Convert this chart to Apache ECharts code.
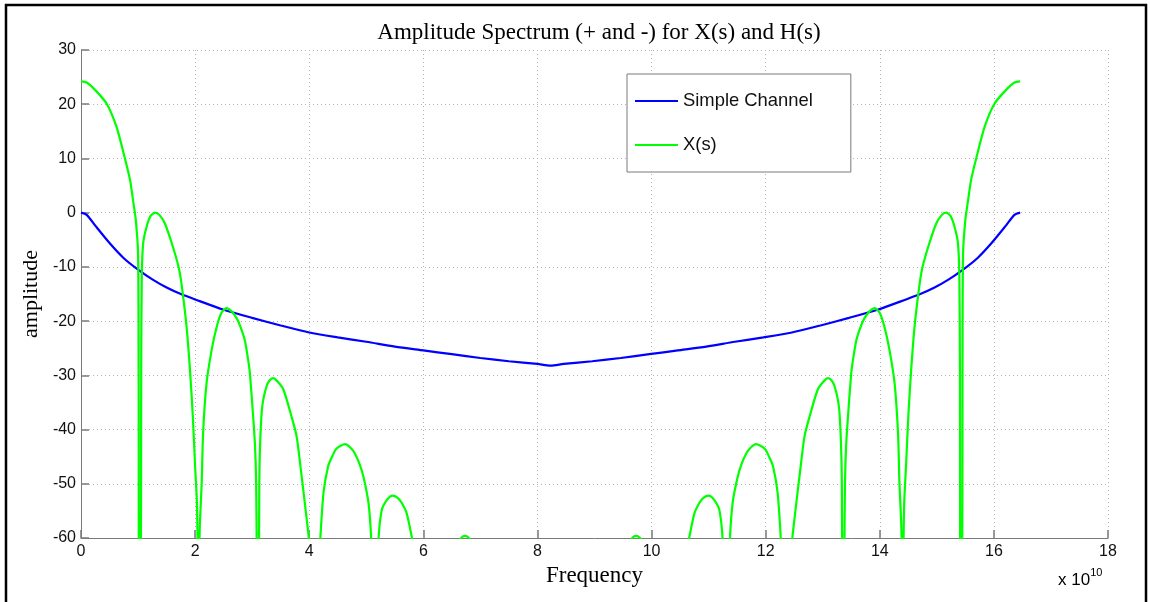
<!DOCTYPE html>
<html>
<head>
<meta charset="utf-8">
<script src="https://cdn.jsdelivr.net/npm/echarts@6/dist/echarts.min.js"></script>
<style>
html,body{margin:0;padding:0;background:#fff;}
#chart{width:1150px;height:602px;}
</style>
</head>
<body>
<div id="chart"></div>
<script>
// Frequency in units of 1e10
var xTicks = [0, 2, 4, 6, 8, 10, 12, 14, 16, 18];
var yTicks = [-60, -50, -40, -30, -20, -10, 0, 10, 20, 30];

var chanFreq = [0, 0.1, 0.25, 0.5, 0.75, 1.0, 1.25, 1.5, 1.75, 2.0, 2.5, 3.0, 3.5, 4.0, 4.5, 5.0, 5.5, 6.0, 6.5, 7.0, 7.5, 8.0, 8.23,
  8.46, 8.96, 9.46, 9.96, 10.46, 10.96, 11.46, 11.96, 12.46, 12.96, 13.46, 13.96, 14.46, 14.71, 14.96, 15.21, 15.46, 15.71, 15.96, 16.21, 16.36, 16.46];
var chanAmp = [0, -0.4, -2.4, -5.6, -8.4, -10.5, -12.3, -13.8, -15.0, -16.0, -17.9, -19.4, -20.8, -22.1, -23.0, -23.8, -24.7, -25.4, -26.1, -26.8, -27.4, -27.9, -28.2,
  -27.9, -27.4, -26.8, -26.1, -25.4, -24.7, -23.8, -23.0, -22.1, -20.8, -19.4, -17.9, -16.0, -15.0, -13.8, -12.3, -10.5, -8.4, -5.6, -2.4, -0.4, 0];

var xsFreq = [0, 0.1, 0.25, 0.45, 0.62, 0.77, 0.86, 0.92, 0.96, 1.0, 1.01, 1.02, 1.045, 1.055, 1.065, 1.09, 1.15, 1.22, 1.3, 1.38,
  1.47, 1.59, 1.71, 1.76, 1.85, 1.91, 1.96, 2.0, 2.03, 2.045, 2.06, 2.075, 2.085, 2.115, 2.14, 2.2, 2.29, 2.38, 2.46, 2.55,
  2.64, 2.73, 2.8, 2.87, 2.93, 2.96, 3.02, 3.05, 3.07, 3.08, 3.1, 3.12, 3.125, 3.14, 3.17, 3.2, 3.25, 3.3, 3.37, 3.45,
  3.55, 3.69, 3.78, 3.86, 3.95, 4.0, 4.1, 4.19, 4.25, 4.33, 4.4, 4.48, 4.63, 4.72, 4.8, 4.88, 4.95, 5.04, 5.09, 5.15,
  5.21, 5.27, 5.36, 5.46, 5.55, 5.62, 5.71, 5.82, 6.2, 6.6, 6.67, 6.73, 6.79, 6.85, 7.5, 8.23,
  8.96, 9.61, 9.67, 9.73, 9.79, 9.86, 10.26, 10.64, 10.75, 10.84, 10.91, 11.0, 11.1, 11.19, 11.25, 11.31, 11.37, 11.42,
  11.51, 11.58, 11.66, 11.74, 11.83, 11.98, 12.06, 12.13, 12.21, 12.27, 12.36, 12.46, 12.51, 12.6, 12.68, 12.77, 12.91,
  13.01, 13.09, 13.16, 13.21, 13.26, 13.29, 13.32, 13.335, 13.34, 13.36, 13.38, 13.39, 13.41, 13.44, 13.5, 13.53, 13.59,
  13.66, 13.73, 13.82, 13.91, 14.0, 14.08, 14.17, 14.26, 14.32, 14.345, 14.375, 14.385, 14.4, 14.415, 14.43, 14.46, 14.5,
  14.55, 14.61, 14.7, 14.75, 14.87, 14.99, 15.08, 15.16, 15.24, 15.31, 15.37, 15.395, 15.405, 15.415, 15.44, 15.45, 15.46,
  15.5, 15.54, 15.6, 15.69, 15.84, 16.01, 16.21, 16.36, 16.46];
var xsAmp = [24.2, 24.0, 22.6, 20.1, 15.9, 10.0, 6.0, 1.7, -1.3, -7.5, -30, -80, -80, -30, -12, -5.6, -2.6, -0.6, 0, -0.5,
  -2.0, -5.6, -10.0, -13, -21, -29, -37.6, -46.8, -53, -62, -80, -62, -57, -50, -40.7, -31.5, -25.3, -21.0, -18.5, -17.6,
  -18.2, -19.5, -21.2, -23.5, -27.2, -29.6, -38, -43, -50, -62, -80, -62, -50, -42.5, -36.4, -34.2, -32.1, -31.0, -30.5, -31.2,
  -32.7, -37.6, -41.3, -48, -56, -61, -80, -61, -51.7, -46.8, -45.0, -43.5, -42.7, -43.3, -44.4, -46.3, -48.7, -53.6, -61, -80,
  -61, -54.9, -53.0, -52.2, -52.6, -53.5, -55.5, -61, -80, -61, -59.9, -59.6, -59.9, -61, -80, -80,
  -80, -61, -59.9, -59.6, -59.9, -61, -80, -61, -55.5, -53.5, -52.6, -52.2, -53.0, -54.9, -61, -80, -61, -53.6,
  -48.7, -46.3, -44.4, -43.3, -42.7, -43.5, -45.0, -46.8, -51.7, -61, -80, -61, -56, -48, -41.3, -37.6, -32.7,
  -31.2, -30.5, -31.0, -32.1, -34.2, -36.4, -42.5, -50, -62, -80, -62, -50, -43, -38, -29.6, -27.2, -23.5,
  -21.2, -19.5, -18.2, -17.6, -18.5, -21.0, -25.3, -31.5, -40.7, -50, -57, -62, -80, -62, -53, -46.8, -37.6,
  -29, -21, -13, -10.0, -5.6, -2.0, -0.5, 0, -0.6, -2.6, -5.6, -12, -30, -80, -80, -30, -7.5,
  -1.3, 1.7, 6.0, 10.0, 15.9, 20.1, 22.6, 24.0, 24.2];

function pairs(xs, ys) { var out = []; for (var i = 0; i < xs.length; i++) out.push([xs[i], ys[i]]); return out; }

var chart = echarts.init(document.getElementById('chart'), null, {renderer: 'canvas'});
var gridLine = {show: true, lineStyle: {color: '#b4b4b4', type: [1, 3], width: 1}};
var axisText = {color: '#111', fontFamily: 'Liberation Sans, Arial', fontSize: 16};
chart.setOption({
  backgroundColor: '#ffffff',
  animation: false,
  title: {
    text: 'Amplitude Spectrum (+ and -) for X(s) and H(s)',
    left: 594, top: 16, textAlign: 'center',
    textStyle: {fontFamily: 'Liberation Serif, Times New Roman', fontWeight: 'normal', fontSize: 23, color: '#000'}
  },
  legend: {
    orient: 'vertical',
    left: 627, top: 74,
    padding: [18, 38, 18, 8],
    itemGap: 26,
    itemWidth: 43, itemHeight: 2,
    icon: 'rect',
    backgroundColor: '#ffffff',
    borderColor: '#7a7a7a', borderWidth: 1,
    textStyle: {fontFamily: 'Liberation Sans, Arial', fontSize: 18.4, color: '#111'},
    data: ['Simple Channel', 'X(s)']
  },
  grid: {left: 81, right: 42, top: 50, bottom: 64, containLabel: false},
  xAxis: {
    type: 'value', min: xTicks[0], max: xTicks[xTicks.length - 1], interval: 2,
    name: 'Frequency', nameLocation: 'middle', nameGap: 22,
    nameTextStyle: {fontFamily: 'Liberation Serif, Times New Roman', fontSize: 23, color: '#000'},
    axisLine: {show: true, onZero: false, lineStyle: {color: '#7a7a7a', width: 1}},
    axisTick: {show: true, inside: true, length: 8, lineStyle: {color: '#7a7a7a', width: 1.5}},
    axisLabel: Object.assign({margin: 6}, axisText),
    splitLine: gridLine
  },
  yAxis: {
    type: 'value', min: yTicks[0], max: yTicks[yTicks.length - 1], interval: 10,
    name: 'amplitude', nameLocation: 'middle', nameGap: 36,
    nameTextStyle: {fontFamily: 'Liberation Serif, Times New Roman', fontSize: 22, color: '#000'},
    axisLine: {show: true, onZero: false, lineStyle: {color: '#7a7a7a', width: 1}},
    axisTick: {show: true, inside: true, length: 8, lineStyle: {color: '#7a7a7a', width: 1.5}},
    axisLabel: Object.assign({margin: 5}, axisText),
    splitLine: gridLine
  },
  series: [
    {
      name: 'Simple Channel', type: 'line', data: pairs(chanFreq, chanAmp),
      showSymbol: false, symbol: 'none', clip: true, smooth: 0.25,
      lineStyle: {color: '#0000ff', width: 2.2}, itemStyle: {color: '#0000ff'}, z: 3
    },
    {
      name: 'X(s)', type: 'line', data: pairs(xsFreq, xsAmp),
      showSymbol: false, symbol: 'none', clip: true, smooth: 0.25,
      lineStyle: {color: '#00ff00', width: 2.2}, itemStyle: {color: '#00ff00'}, z: 4
    }
  ],
  graphic: [
    {type: 'rect', shape: {x: 6, y: 5, width: 1140, height: 610}, style: {fill: 'none', stroke: '#000', lineWidth: 2.5}, silent: true, z: 10},
    {type: 'text', left: 1058, top: 567, silent: true,
      style: {text: '{a|x 10}{b|10}', rich: {
        a: {fontFamily: 'Liberation Sans, Arial', fontSize: 17, color: '#111', verticalAlign: 'bottom'},
        b: {fontFamily: 'Liberation Sans, Arial', fontSize: 11, color: '#111', verticalAlign: 'top', padding: [0, 0, 11, 0]}
      }}}
  ]
});
</script>
</body>
</html>
